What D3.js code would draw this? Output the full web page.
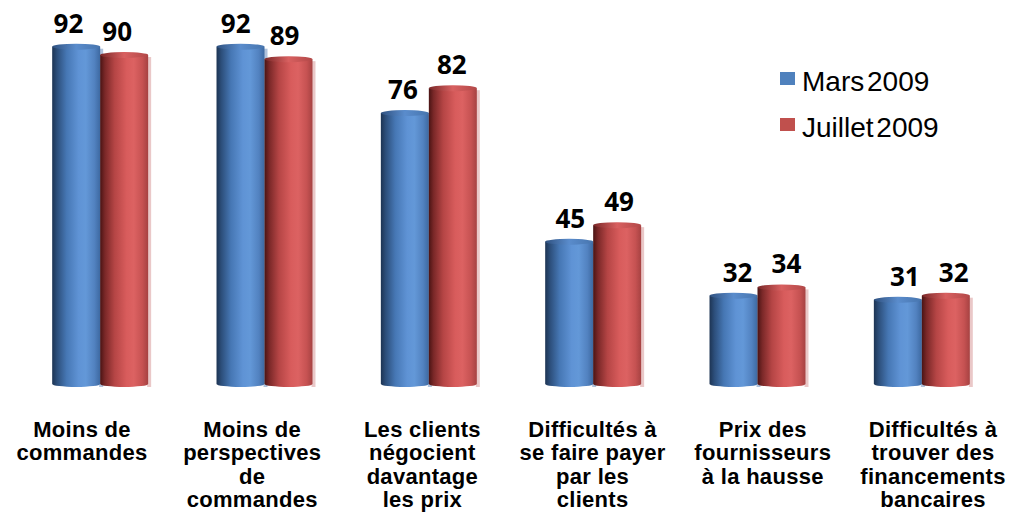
<!DOCTYPE html>
<html>
<head>
<meta charset="utf-8">
<script src="https://cdn.jsdelivr.net/npm/d3@7"></script>
<style>
  body { margin: 0; background: #fff; }
  svg { display: block; }
</style>
</head>
<body>
<script>
var w = 1016;
var h = 518;

// data
var categories = [
  "Moins de\ncommandes",
  "Moins de\nperspectives\nde\ncommandes",
  "Les clients\nnégocient\ndavantage\nles prix",
  "Difficultés à\nse faire payer\npar les\nclients",
  "Prix des\nfournisseurs\nà la hausse",
  "Difficultés à\ntrouver des\nfinancements\nbancaires"
];
var series = ["Mars 2009", "Juillet 2009"];
var mars = [92, 92, 76, 45, 32, 31];
var juillet = [90, 89, 82, 49, 34, 32];

var svg = d3.select("body")
            .append("svg")
            .attr("width", w)
            .attr("height", h);

var defs = svg.append("defs");

function grad(id, stops) {
  var g = defs.append("linearGradient")
      .attr("id", id)
      .attr("x1", 0).attr("x2", 1).attr("y1", 0).attr("y2", 0);
  stops.forEach(function(s){
    g.append("stop").attr("offset", s[0]).attr("stop-color", s[1]);
  });
}
grad("gBlue", [[0, "#1d3453"], [0.1, "#2c4e7a"], [0.3, "#4677b4"], [0.55, "#5f93d5"], [0.7, "#6398d8"], [0.88, "#5282c0"], [1, "#3d69a1"]]);
grad("gRed",  [[0, "#4a1414"], [0.1, "#7a2828"], [0.3, "#b54545"], [0.55, "#d85c5c"], [0.7, "#dc6262"], [0.88, "#c65252"], [1, "#a64242"]]);
grad("gBlueTop", [[0, "#2f5180"], [0.5, "#5a8ccc"], [1, "#4775ae"]]);
grad("gRedTop",  [[0, "#7a2828"], [0.5, "#d86060"], [1, "#b24848"]]);

var fills = ["url(#gBlue)", "url(#gRed)"];
var topFills = ["url(#gBlueTop)", "url(#gRedTop)"];
var legendColors = ["#4f81bd", "#c0504d"];

var x0 = d3.scaleBand()
    .domain(categories)
    .range([18, 1004])
    .paddingInner(0.416)
    .paddingOuter(0.208);

var x1 = d3.scaleBand()
    .domain(series)
    .range([0, x0.bandwidth()]);

var y = d3.scaleLinear()
    .domain([10, 100])
    .range([387, 13.5]);

var xLab = d3.scalePoint()
    .domain(categories)
    .range([82, 933]);

var rows = categories.map(function(c, i){
  return { cat: c, values: [mars[i], juillet[i]] };
});

var ry = 3;

var groups = svg.selectAll("g.grp")
    .data(rows)
    .enter()
    .append("g")
    .attr("class", "grp")
    .attr("transform", function(d){ return "translate(" + x0(d.cat) + ",0)"; });

var bars = groups.selectAll("g.bar")
    .data(function(d){
      return d.values.map(function(v, j){ return { cat: d.cat, s: series[j], j: j, v: v }; });
    })
    .enter()
    .append("g")
    .attr("class", "bar");

// faint shadow on the right side
bars.append("rect")
    .attr("x", function(d){ return x1(d.s) + x1.bandwidth() - 1; })
    .attr("y", function(d){ return y(d.v) + 2; })
    .attr("width", 4)
    .attr("height", function(d){ return y(10) - y(d.v) - 2; })
    .attr("fill", function(d){ return d.j === 0 ? "#6d8fbf" : "#d99a9a"; })
    .attr("opacity", 0.55);

// cylinder body
bars.append("path")
    .attr("fill", function(d){ return fills[d.j]; })
    .attr("d", function(d){
      var xa = x1(d.s), xb = xa + x1.bandwidth(), bw = x1.bandwidth();
      var t = y(d.v), b = y(10) - ry;
      return "M" + xa + "," + t + "L" + xa + "," + b +
             "A" + (bw / 2) + "," + ry + " 0 0 0 " + xb + "," + b +
             "L" + xb + "," + t + "Z";
    });

// top cap
bars.append("ellipse")
    .attr("cx", function(d){ return x1(d.s) + x1.bandwidth() / 2; })
    .attr("cy", function(d){ return y(d.v); })
    .attr("rx", x1.bandwidth() / 2)
    .attr("ry", ry)
    .attr("fill", function(d){ return topFills[d.j]; });

// value labels
bars.append("text")
    .text(function(d){ return d.v; })
    .attr("x", function(d){
      var cx = x0(d.cat) + x1(d.s) + x1.bandwidth() / 2;
      return x1(d.s) + x1.bandwidth() / 2 + (cx - 508) * 0.018;
    })
    .attr("y", function(d){ return y(d.v) - 14; })
    .attr("text-anchor", "middle")
    .attr("font-family", "'Open Sans', sans-serif")
    .attr("font-weight", 700)
    .attr("font-size", 26)
    .attr("fill", "#000");

// category labels
var catLabels = svg.selectAll("text.cat")
    .data(categories)
    .enter()
    .append("text")
    .attr("class", "cat")
    .attr("text-anchor", "middle")
    .attr("font-family", "'Liberation Sans', Arial, sans-serif")
    .attr("font-weight", 700)
    .attr("font-size", 22)
    .attr("letter-spacing", 0.3)
    .attr("fill", "#000");

catLabels.selectAll("tspan")
    .data(function(d){ return d.split("\n").map(function(l){ return { cat: d, line: l }; }); })
    .enter()
    .append("tspan")
    .attr("x", function(d){ return xLab(d.cat); })
    .attr("y", function(d, i){ return 437 + i * 23.3; })
    .text(function(d){ return d.line; });

// legend
var legend = svg.selectAll("g.leg")
    .data(series)
    .enter()
    .append("g")
    .attr("class", "leg")
    .attr("transform", function(d, i){ return "translate(780," + (72 + i * 46) + ")"; });

legend.append("rect")
    .attr("width", 15)
    .attr("height", 13)
    .attr("fill", function(d, i){ return legendColors[i]; });

legend.append("text")
    .text(function(d){ return d; })
    .attr("x", 22)
    .attr("y", 19)
    .attr("font-family", "'Liberation Sans', Arial, sans-serif")
    .attr("font-size", 28)
    .attr("word-spacing", -5)
    .attr("fill", "#000");
</script>
</body>
</html>
